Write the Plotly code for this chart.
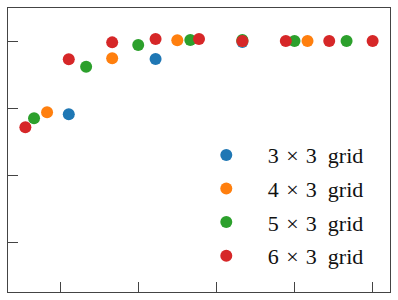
import plotly.graph_objects as go

# Data (x = k/n fractions, y)
labels = ["3 × 3 grid", "4 × 3 grid", "5 × 3 grid", "6 × 3 grid"]
colors = ["#1f77b4", "#ff7f0e", "#2ca02c", "#d62728"]

x_3 = [1/3, 2/3, 1.0]
y_3 = [0.8906, 0.9731, 0.9985]

x_4 = [1/4, 2/4, 3/4, 1.0, 5/4]
y_4 = [0.8936, 0.9742, 1.001, 1.0, 1.0]

x_5 = [1/5, 2/5, 3/5, 4/5, 1.0, 6/5, 7/5]
y_5 = [0.8846, 0.9616, 0.994, 1.0015, 1.0015, 1.0, 1.0]

x_6 = [1/6, 2/6, 3/6, 4/6, 5/6, 1.0, 7/6, 8/6, 9/6]
y_6 = [0.8712, 0.9727, 0.998, 1.003, 1.003, 1.0, 1.0, 1.0, 1.0]

x_ticks = [0.3, 0.6, 0.9, 1.2, 1.5]
y_ticks = [0.7, 0.8, 0.9, 1.0]

series = [(x_3, y_3), (x_4, y_4), (x_5, y_5), (x_6, y_6)]


def legend_text(lab):
    return "\u2002\u2005" + lab.replace(" × ", "\u2004×\u2004").replace(" grid", "\u2002grid")


fig = go.Figure()
for i, ((xs, ys), lab, col) in enumerate(zip(series, labels, colors)):
    fig.add_trace(go.Scatter(
        x=xs, y=ys, mode="markers", name=legend_text(lab),
        legendgroup=f"g{i}",
        marker=dict(size=12, color=col, line=dict(width=0)),
    ))

axis_common = dict(
    showgrid=False, zeroline=False, showticklabels=False,
    ticks="inside", ticklen=10, tickwidth=1, tickcolor="#444",
    showline=True, linecolor="#444", linewidth=1.3, mirror=True,
)

fig.update_layout(
    width=398, height=300,
    margin=dict(l=8, r=8, t=8, b=8),
    paper_bgcolor="white", plot_bgcolor="white",
    xaxis=dict(range=[0.1, 1.5667], tickvals=x_ticks, **axis_common),
    yaxis=dict(range=[0.6254, 1.0493], tickvals=y_ticks, **axis_common),
    legend=dict(
        x=0.506, y=0.556, xanchor="left", yanchor="top",
        bgcolor="rgba(255,255,255,0)",
        font=dict(family="Liberation Serif", size=22, color="#111"),
        tracegroupgap=2, itemwidth=40,
    ),
    showlegend=True,
)

fig.write_html("out.html", config={"displayModeBar": False},
               post_script="document.body.style.margin='0';")
